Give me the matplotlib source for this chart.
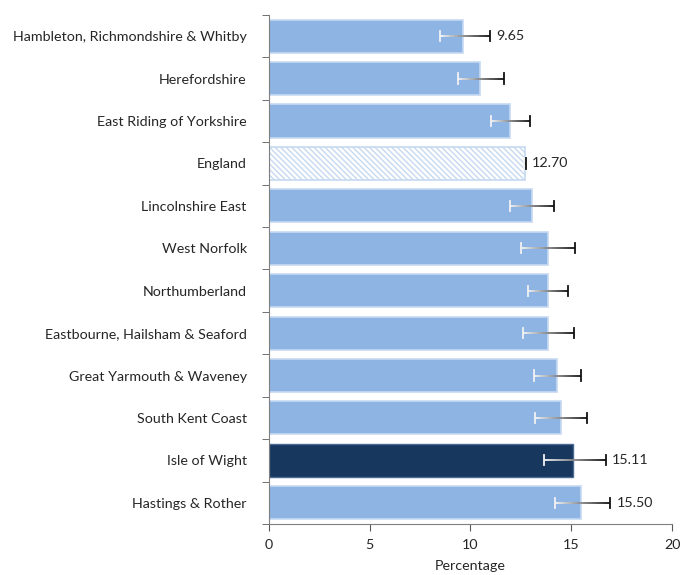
import numpy as np
import matplotlib.pyplot as plt
from matplotlib.collections import LineCollection
from matplotlib.ticker import FixedLocator

plt.rcParams['font.family'] = ['Lato', 'DejaVu Sans']
plt.rcParams['hatch.linewidth'] = 1.0

areas = ["Hambleton, Richmondshire & Whitby", "Herefordshire", "East Riding of Yorkshire",
         "England", "Lincolnshire East", "West Norfolk", "Northumberland",
         "Eastbourne, Hailsham & Seaford", "Great Yarmouth & Waveney", "South Kent Coast",
         "Isle of Wight", "Hastings & Rother"]
values = [9.65, 10.47, 11.96, 12.70, 13.03, 13.86, 13.85, 13.86, 14.31, 14.49, 15.11, 15.50]
ci_low = [8.50, 9.36, 11.02, 12.65, 11.96, 12.50, 12.85, 12.59, 13.15, 13.21, 13.67, 14.19]
ci_high = [10.98, 11.66, 12.95, 12.75, 14.16, 15.20, 14.82, 15.14, 15.50, 15.80, 16.70, 16.94]
shown_labels = {"Hambleton, Richmondshire & Whitby": "9.65", "England": "12.70",
                "Isle of Wight": "15.11", "Hastings & Rother": "15.50"}
xticks = [0, 5, 10, 15, 20]

light = "#8EB4E3"
dark = "#17375E"
edge = "#C6D9F1"
txt = "#262626"


def grad_err(ax, y, lo, hi, n=40):
    # error bar fading from white (low end) to black (high end)
    xs = np.linspace(lo, hi, n + 1)
    segs = [[(xs[i], y), (xs[i + 1], y)] for i in range(n)]
    shades = np.linspace(0.97, 0.05, n)
    cols = [(s, s, s) for s in shades]
    ax.add_collection(LineCollection(segs, colors=cols, linewidths=1.3, zorder=4))
    ax.plot([lo, lo], [y - 0.12, y + 0.12], color="#f2f2f2", lw=1.3, zorder=4)
    ax.plot([hi, hi], [y - 0.12, y + 0.12], color="#111111", lw=1.3, zorder=4)


fig = plt.figure(figsize=(6.94, 5.75), dpi=100)
axs = fig.add_axes([0.3876, 0.0887, 0.5807, 0.8853])

y = np.arange(len(areas))
for i, name in enumerate(areas):
    if name == "England":
        axs.barh(i, values[i], height=0.78, color="white", edgecolor=edge,
                 hatch="\\\\\\\\\\\\", lw=1.2, zorder=2)
    elif name == "Isle of Wight":
        axs.barh(i, values[i], height=0.78, color=dark, edgecolor="#4a6a93", lw=1.0, zorder=2)
    else:
        axs.barh(i, values[i], height=0.78, color=light, edgecolor=edge, lw=1.2, zorder=2)
    grad_err(axs, i, ci_low[i], ci_high[i])
    if name in shown_labels:
        axs.text(ci_high[i] + 0.3, i, shown_labels[name], va="center", ha="left",
                 fontsize=10.3, color=txt)

axs.set_xlim(0, 20)
axs.set_ylim(len(areas) - 0.5, -0.5)
axs.set_xticks(xticks)
axs.set_yticks(y)
axs.set_yticklabels(areas, fontsize=10.3, color=txt)
axs.yaxis.set_minor_locator(FixedLocator(np.arange(-0.5, len(areas), 1.0)))
axs.tick_params(axis="y", which="major", length=0, pad=16)
axs.tick_params(axis="y", which="minor", length=5, color="#595959", direction="out")
axs.tick_params(axis="x", which="major", length=5, color="#595959", labelsize=10.3,
                labelcolor=txt, pad=6)
axs.set_xlabel("Percentage", fontsize=10.3, color=txt, labelpad=6)

for s in ["top", "right"]:
    axs.spines[s].set_visible(False)
for s in ["left", "bottom"]:
    axs.spines[s].set_color("#7f7f7f")

plt.savefig("out.png", dpi=100)
